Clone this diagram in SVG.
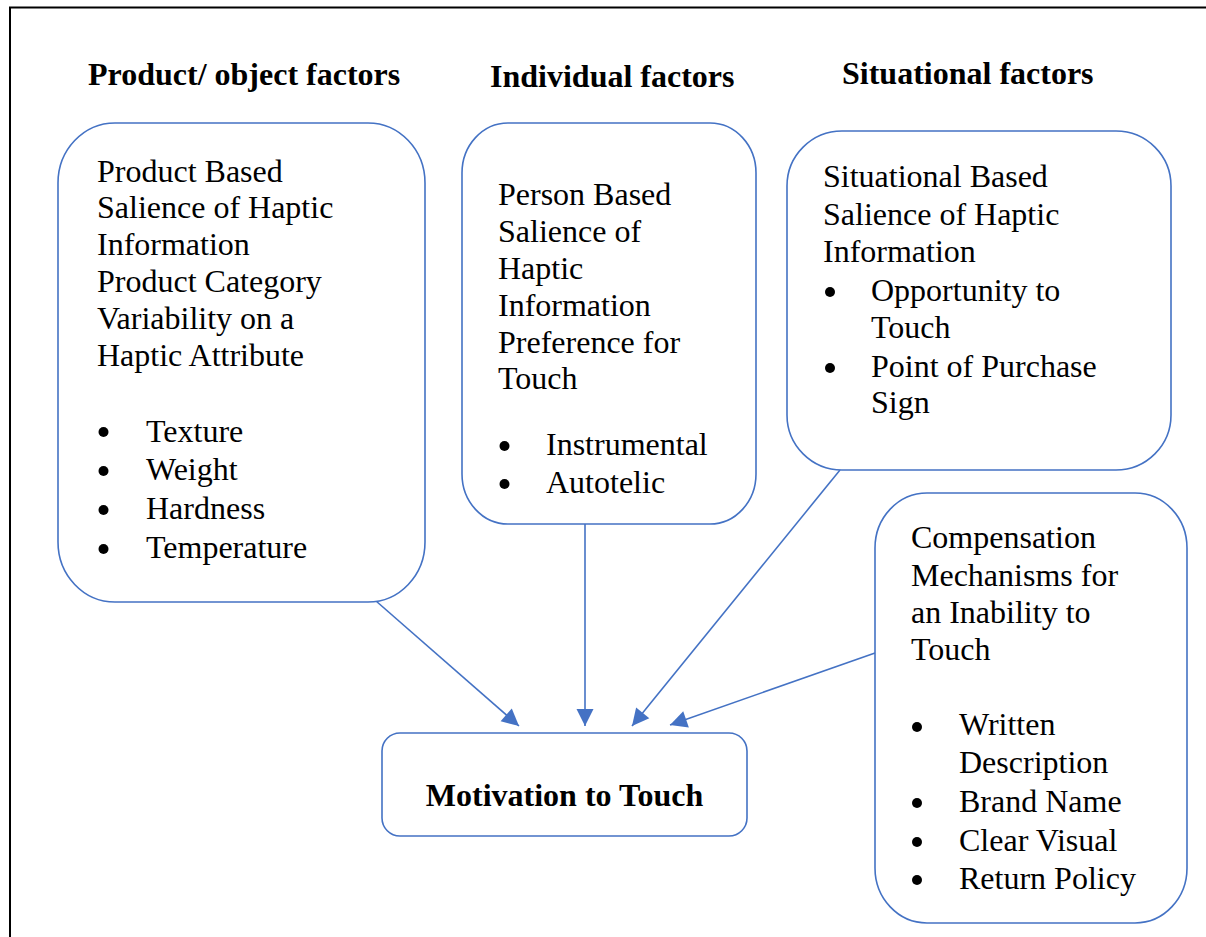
<svg xmlns="http://www.w3.org/2000/svg" width="1206" height="937" viewBox="0 0 1206 937">
  <style>
    .frame { fill: none; stroke: #000; stroke-width: 2; }
    .box { fill: #fff; stroke: #4472C4; stroke-width: 1.6; }
    .head { font-family: "Liberation Serif", "Times New Roman", serif; font-size: 32px; font-weight: bold; fill: #000; }
    .body { font-family: "Liberation Serif", "Times New Roman", serif; font-size: 32px; fill: #000; }
    .bullet { fill: #000; }
    .link { fill: none; stroke: #4472C4; stroke-width: 1.6; marker-end: url(#arrow); }
  </style>
  <defs>
    <marker id="arrow" markerUnits="userSpaceOnUse" markerWidth="22" markerHeight="20" refX="18" refY="9.5" orient="auto">
      <path d="M1,1 L18,9.5 L1,18 Z" fill="#4472C4"/>
    </marker>
  </defs>

  <rect class="frame" x="10" y="7.5" width="1300" height="1000"/>

  <!-- column headings -->
  <g id="headings">
    <text class="head" x="88" y="85">Product/ object factors</text>
    <text class="head" x="490" y="87">Individual factors</text>
    <text class="head" x="842" y="84">Situational factors</text>
  </g>

  <!-- connectors -->
  <g id="connectors">
    <line class="link" x1="376" y1="601" x2="519" y2="726"/>
    <line class="link" x1="585" y1="524" x2="585" y2="726"/>
    <line class="link" x1="840" y1="470" x2="632" y2="726"/>
    <line class="link" x1="875" y1="653" x2="670" y2="725"/>
  </g>

  <g id="product-factors">
    <rect class="box" x="58" y="123" width="367" height="479" rx="57" ry="60"/>
    <text class="body" x="97" y="182">Product Based</text>
    <text class="body" x="97" y="218">Salience of Haptic</text>
    <text class="body" x="97" y="255">Information</text>
    <text class="body" x="97" y="292">Product Category</text>
    <text class="body" x="97" y="329">Variability on a</text>
    <text class="body" x="97" y="366">Haptic Attribute</text>
    <circle class="bullet" cx="103.5" cy="432" r="5"/>
    <text class="body" x="146" y="442">Texture</text>
    <circle class="bullet" cx="103.5" cy="471" r="5"/>
    <text class="body" x="146" y="480">Weight</text>
    <circle class="bullet" cx="103.5" cy="510" r="5"/>
    <text class="body" x="146" y="519">Hardness</text>
    <circle class="bullet" cx="103.5" cy="549" r="5"/>
    <text class="body" x="146" y="558">Temperature</text>
  </g>

  <g id="individual-factors">
    <rect class="box" x="462" y="123" width="294" height="401" rx="46" ry="50"/>
    <text class="body" x="498" y="205">Person Based</text>
    <text class="body" x="498" y="242">Salience of</text>
    <text class="body" x="498" y="279">Haptic</text>
    <text class="body" x="498" y="316">Information</text>
    <text class="body" x="498" y="353">Preference for</text>
    <text class="body" x="498" y="389">Touch</text>
    <circle class="bullet" cx="504.5" cy="446" r="5"/>
    <text class="body" x="546" y="455">Instrumental</text>
    <circle class="bullet" cx="504.5" cy="484" r="5"/>
    <text class="body" x="546" y="493">Autotelic</text>
  </g>

  <g id="situational-factors">
    <rect class="box" x="787" y="131" width="384" height="339" rx="55" ry="55"/>
    <text class="body" x="823" y="187">Situational Based</text>
    <text class="body" x="823" y="225">Salience of Haptic</text>
    <text class="body" x="823" y="262">Information</text>
    <circle class="bullet" cx="830" cy="292" r="5"/>
    <text class="body" x="871" y="301">Opportunity to</text>
    <text class="body" x="871" y="338">Touch</text>
    <circle class="bullet" cx="830" cy="368" r="5"/>
    <text class="body" x="871" y="377">Point of Purchase</text>
    <text class="body" x="871" y="413">Sign</text>
  </g>

  <g id="compensation-mechanisms">
    <rect class="box" x="875" y="493" width="312" height="430" rx="52" ry="55"/>
    <text class="body" x="911" y="548">Compensation</text>
    <text class="body" x="911" y="586">Mechanisms for</text>
    <text class="body" x="911" y="623">an Inability to</text>
    <text class="body" x="911" y="660">Touch</text>
    <circle class="bullet" cx="917" cy="727" r="5"/>
    <text class="body" x="959" y="735">Written</text>
    <text class="body" x="959" y="773">Description</text>
    <circle class="bullet" cx="917" cy="803" r="5"/>
    <text class="body" x="959" y="812">Brand Name</text>
    <circle class="bullet" cx="917" cy="842" r="5"/>
    <text class="body" x="959" y="851">Clear Visual</text>
    <circle class="bullet" cx="917" cy="880" r="5"/>
    <text class="body" x="959" y="889">Return Policy</text>
  </g>

  <g id="motivation-to-touch">
    <rect class="box" x="382" y="733" width="365" height="103" rx="18" ry="18"/>
    <text class="head" x="564.5" y="806" text-anchor="middle">Motivation to Touch</text>
  </g>
</svg>
